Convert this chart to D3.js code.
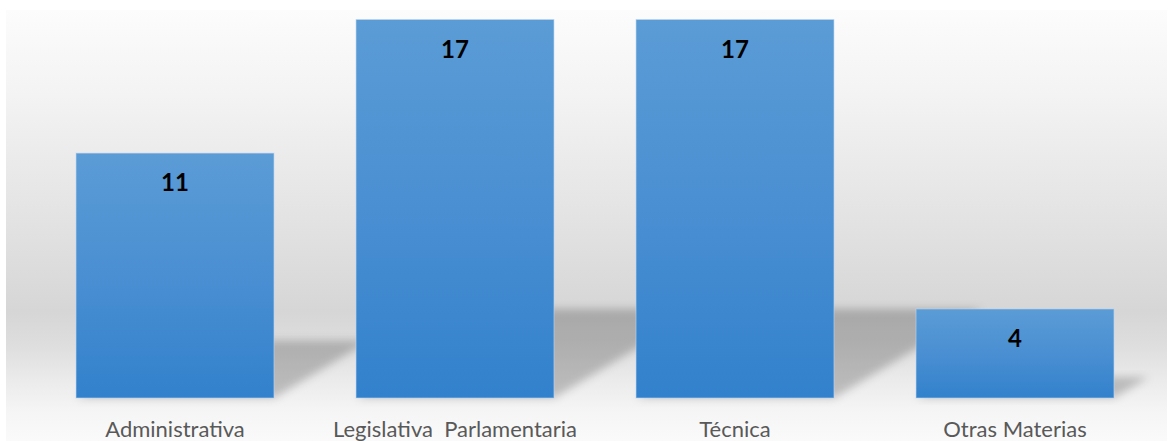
<!DOCTYPE html>
<html>
<head>
<meta charset="utf-8">
<script src="https://cdnjs.cloudflare.com/ajax/libs/d3/7.8.5/d3.min.js"></script>
<style>
  html, body { margin: 0; padding: 0; background: #ffffff; }
  svg { display: block; }
</style>
</head>
<body>
<div id="chart"></div>
<script>
const categories = ["Administrativa", "Legislativa  Parlamentaria", "Técnica", "Otras Materias"];
const values = [11, 17, 17, 4];

const W = 1171, H = 441;
const svg = d3.select("#chart").append("svg").attr("width", W).attr("height", H);
const defs = svg.append("defs");

// background gradient
const bg = defs.append("linearGradient").attr("id", "bgGrad")
  .attr("x1", 0).attr("y1", 0).attr("x2", 0).attr("y2", 1);
[[0, "#fcfcfc"], [0.2, "#f3f3f3"], [0.5, "#e2e2e2"], [0.7, "#d6d6d6"], [0.78, "#dedede"], [0.86, "#ebebeb"], [0.93, "#f5f5f5"], [1, "#fafafa"]]
  .forEach(([o, c]) => bg.append("stop").attr("offset", o).attr("stop-color", c));

// bar gradient
const bg2 = defs.append("linearGradient").attr("id", "barGrad")
  .attr("x1", 0).attr("y1", 0).attr("x2", 0).attr("y2", 1);
[[0, "#5b9cd6"], [0.5, "#4a8fd2"], [1, "#3281cc"]]
  .forEach(([o, c]) => bg2.append("stop").attr("offset", o).attr("stop-color", c));

const blur = defs.append("filter").attr("id", "blur")
  .attr("x", "-30%").attr("y", "-30%").attr("width", "160%").attr("height", "160%");
blur.append("feGaussianBlur").attr("stdDeviation", 4);

svg.append("rect").attr("x", 6).attr("y", 10).attr("width", 1161).attr("height", H - 10)
  .attr("fill", "url(#bgGrad)");

const x = d3.scaleBand().domain(categories).range([35, 1155]).paddingInner(0.293).paddingOuter(0.1465);
const y = d3.scaleLinear().domain([0, 17]).range([398, 19.5]);

const data = categories.map((c, i) => ({ c, v: values[i] }));

// perspective shadows
svg.append("g").selectAll("polygon").data(data).join("polygon")
  .attr("points", d => {
    const x0 = x(d.c), x1 = x(d.c) + x.bandwidth();
    const yb = y(0);
    const h = (y(0) - y(d.v)) * 0.235;
    const dx = h / 0.6;
    return [[x0, yb], [x1, yb], [x1 + dx, yb - h], [x0 + dx, yb - h]].map(p => p.join(",")).join(" ");
  })
  .attr("fill", "#000").attr("fill-opacity", 0.21)
  .attr("filter", "url(#blur)");

// bars
svg.append("g").selectAll("rect").data(data).join("rect")
  .attr("x", d => x(d.c))
  .attr("y", d => y(d.v))
  .attr("width", x.bandwidth())
  .attr("height", d => y(0) - y(d.v))
  .attr("fill", "url(#barGrad)")
  .attr("stroke", "rgba(190,215,240,0.6)")
  .attr("stroke-width", 1);

// value labels
svg.append("g").selectAll("text").data(data).join("text")
  .attr("x", d => x(d.c) + x.bandwidth() / 2)
  .attr("y", d => y(d.v) + 38)
  .attr("text-anchor", "middle")
  .attr("font-family", "Lato, 'Open Sans', sans-serif")
  .attr("font-weight", "bold")
  .attr("font-size", 24)
  .attr("fill", "#000")
  .text(d => d.v);

// category axis labels
const axis = d3.axisBottom(x).tickSize(0).tickPadding(0);
const ag = svg.append("g").attr("transform", "translate(0,420)").call(axis);
ag.select(".domain").remove();
ag.selectAll("text")
  .attr("dy", 0).attr("y", 17)
  .attr("font-family", "Lato, 'Open Sans', sans-serif")
  .attr("font-size", 22)
  .attr("fill", "#595959")
  .style("white-space", "pre");
</script>
</body>
</html>
